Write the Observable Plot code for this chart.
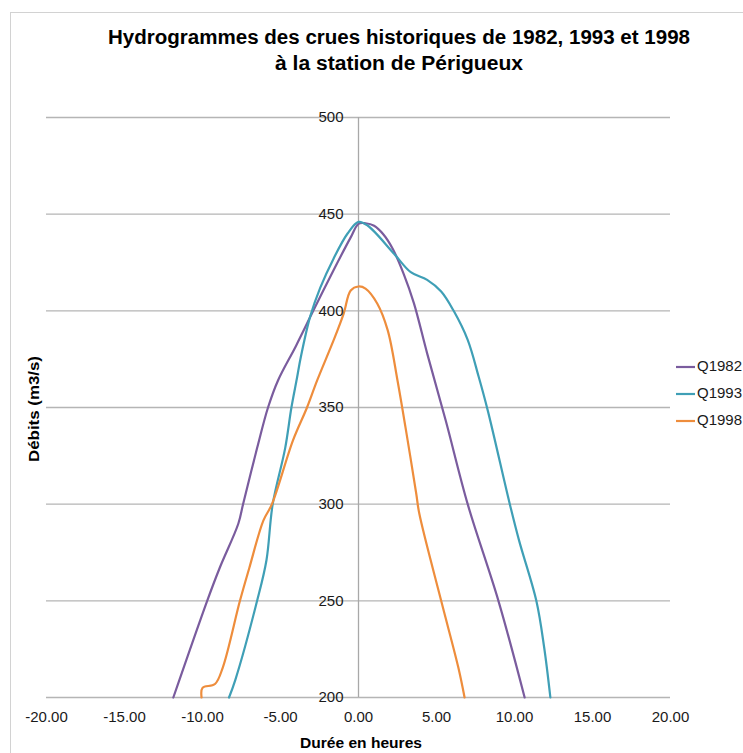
<!DOCTYPE html>
<html>
<head>
<meta charset="utf-8">
<script src="https://cdn.jsdelivr.net/npm/d3@7"></script>
<script src="https://cdn.jsdelivr.net/npm/@observablehq/plot@0.6"></script>
<style>
  body { margin: 0; background: #fff; overflow: hidden; font-family: "Liberation Sans", Arial, sans-serif; }
  #wrap { position: relative; width: 743px; height: 753px; overflow: hidden; background: #fff; }
  #frame { position: absolute; left: 10px; top: 12px; width: 800px; height: 800px;
           border-left: 1.5px solid #d2d2d2; border-top: 1.5px solid #d2d2d2; }
  #chart { position: absolute; left: 0; top: 0; }
  #overlay { position: absolute; left: 0; top: 0; }
</style>
</head>
<body>
<div id="wrap">
  <div id="frame"></div>
  <div id="chart"></div>
  <svg id="overlay" width="743" height="753"></svg>
</div>
<script>
// ---- Data ----
const titleLines = ["Hydrogrammes des crues historiques de 1982, 1993 et 1998", "à la station de Périgueux"];
const xTitle = "Durée en heures";
const yTitle = "Débits (m3/s)";

const seriesNames = ["Q1982", "Q1993", "Q1998"];
const seriesColors = ["#7a5c9e", "#3f9fb6", "#ee8d3c"];

const xTicks = [-20, -15, -10, -5, 0, 5, 10, 15, 20];
const yTicks = [200, 250, 300, 350, 400, 450, 500];

const hours1982 = [-11.87, -9.7, -8.9, -7.7, -7.4, -6.5, -5.8, -5.16, -4.0, -2.9, -1.6, -0.5, 0, 0.45, 1.0, 1.6, 2.2, 2.9, 3.55, 4.4, 5.6, 7.0, 8.97, 10.65];
const flow1982  = [200, 250, 267, 290, 300, 329, 350, 364, 382, 400, 421, 438, 445, 445.3, 444, 439.5, 432, 419, 404, 378, 343, 300, 250, 200];

const hours1993 = [-8.3, -7.9, -6.5, -5.9, -5.5, -4.7, -4.3, -3.95, -3.7, -3.1, -2.45, -1.6, -0.7, 0, 0.6, 2.26, 3.35, 4.4, 5.3, 6.1, 7.0, 7.7, 8.3, 9.7, 10.3, 11.4, 11.9, 12.3];
const flow1993  = [200, 209, 250, 271, 300, 329, 350, 365, 376, 397, 412, 427, 440, 446, 444, 429.7, 420, 416, 410, 400, 385, 366, 348, 300, 281, 250, 226, 200];

const hours1998 = [-10.06, -10.0, -9.2, -8.7, -7.6, -7.0, -6.1, -5.55, -4.2, -3.3, -2.65, -1.6, -0.95, -0.5, 0, 0.45, 1.2, 1.87, 2.5, 3.15, 3.7, 3.9, 5.3, 6.4, 6.8];
const flow1998  = [200, 205, 207, 215.5, 250, 267, 291.5, 300, 333, 350, 364, 384.7, 398.6, 410.5, 412.6, 411.5, 403.8, 390, 364, 333, 305.5, 295, 250, 215.5, 200];

// ---- Table built from the arrays ----
const seriesHours = [hours1982, hours1993, hours1998];
const seriesFlows = [flow1982, flow1993, flow1998];
const data = seriesNames.flatMap((name, i) =>
  seriesHours[i].map((h, j) => ({ series: name, hours: h, flow: seriesFlows[i][j] })));

const chart = Plot.plot({
  width: 743,
  height: 753,
  marginTop: 117,
  marginBottom: 56,
  marginLeft: 46,
  marginRight: 73,
  style: { fontFamily: "'Liberation Sans', Arial, sans-serif", fontSize: "15px", color: "#1a1a1a", background: "transparent" },
  x: { domain: [-20, 20] },
  y: { domain: [200, 500], axis: null },
  color: { domain: seriesNames, range: seriesColors },
  marks: [
    Plot.ruleY(yTicks, { stroke: "#b5b5b5", strokeWidth: 1.3 }),
    Plot.ruleX([0], { stroke: "#a8a8a8", strokeWidth: 1.3 }),
    Plot.line(data, { x: "hours", y: "flow", stroke: "series", z: "series", curve: "catmull-rom", strokeWidth: 2.2 }),
    Plot.text(yTicks, { x: () => 0, y: d => d, text: d => String(d), textAnchor: "end", dx: -15, fontSize: 15, fill: "#1a1a1a" }),
    Plot.axisX({ ticks: xTicks, tickFormat: d => d.toFixed(2), tickSize: 0, tickPadding: 14, fontSize: 15, label: null })
  ]
});
document.getElementById("chart").appendChild(chart);

// ---- Titles & legend (real text) ----
const svg = d3.select("#overlay");
svg.append("text").attr("x", 399).attr("y", 44).attr("text-anchor", "middle")
  .attr("font-weight", "bold").attr("font-size", 20).attr("fill", "#000")
  .attr("textLength", 582).attr("lengthAdjust", "spacingAndGlyphs").text(titleLines[0]);
svg.append("text").attr("x", 399).attr("y", 70).attr("text-anchor", "middle")
  .attr("font-weight", "bold").attr("font-size", 20).attr("fill", "#000")
  .attr("textLength", 248).attr("lengthAdjust", "spacingAndGlyphs").text(titleLines[1]);

svg.append("text").attr("x", 361).attr("y", 744).attr("text-anchor", "middle")
  .attr("dominant-baseline", "middle").attr("font-weight", "bold").attr("font-size", 15)
  .attr("fill", "#000").attr("textLength", 122).attr("lengthAdjust", "spacingAndGlyphs").text(xTitle);

svg.append("text").attr("transform", "translate(35,409) rotate(-90)").attr("text-anchor", "middle")
  .attr("dominant-baseline", "middle").attr("font-weight", "bold").attr("font-size", 14)
  .attr("fill", "#000").attr("textLength", 106).attr("lengthAdjust", "spacingAndGlyphs").text(yTitle);

const legendY = [367, 394, 421];
seriesNames.forEach((name, i) => {
  svg.append("line").attr("x1", 676).attr("x2", 695).attr("y1", legendY[i]).attr("y2", legendY[i])
    .attr("stroke", seriesColors[i]).attr("stroke-width", 2.2);
  svg.append("text").attr("x", 697).attr("y", legendY[i]).attr("dominant-baseline", "middle")
    .attr("font-size", 15).attr("fill", "#1a1a1a").text(name);
});
</script>
</body>
</html>
